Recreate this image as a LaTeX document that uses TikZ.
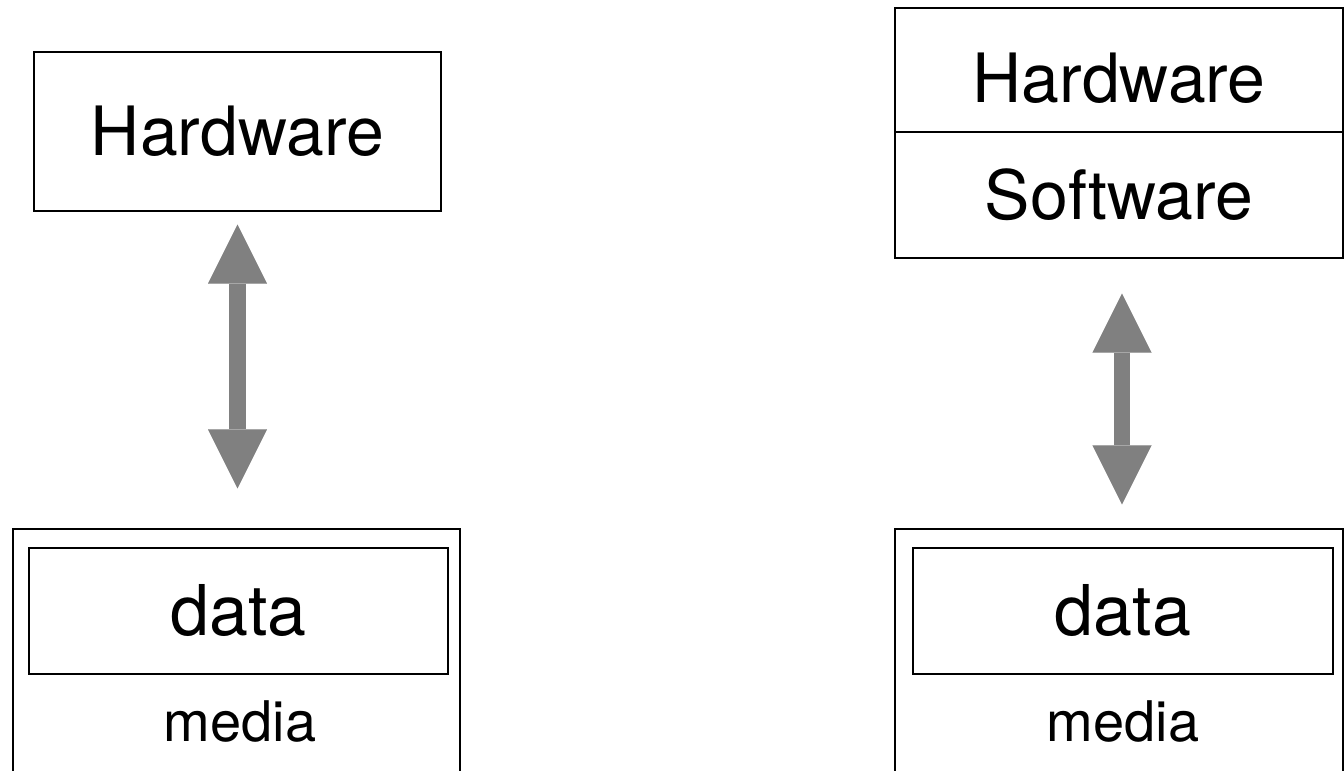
\documentclass[tikz,border=0pt]{standalone}
\usepackage{fontspec}
\setmainfont{TeX Gyre Heros}
\usetikzlibrary{arrows.meta}
\definecolor{arrowgrey}{HTML}{808080}
\tikzset{
  box/.style={draw=black, line width=1.3pt, inner sep=0pt, rectangle},
  bigtext/.style={font=\fontsize{68}{80}\selectfont},
  datatext/.style={font=\fontsize{70}{80}\selectfont},
  smalltext/.style={font=\fontsize{56}{64}\selectfont, inner sep=0pt},
  dbl/.style={draw=arrowgrey, line width=16.5pt,
    {Triangle[length=59pt,width=59pt,line width=0.01pt]}-{Triangle[length=59pt,width=59pt,line width=0.01pt]}}
}
\begin{document}
\begin{tikzpicture}[x=1pt,y=-1pt]
\useasboundingbox (0,0) rectangle (1344,771);
% left column
\node[box, bigtext, minimum width=407pt, minimum height=159pt] (hwl) at (237.5,131.5) {Hardware};
\node[box, minimum width=447pt, minimum height=271pt] (medl) at (236.5,664.5) {};
\node[box, datatext, minimum width=419pt, minimum height=126pt] (datal) at (238.5,611) {data};
\node[smalltext] (medtl) at (240,721) {media};
\draw[dbl, shorten <=13pt, shorten >=40pt] (hwl.south) -- (hwl.south |- medl.north);
% right column
\node[box, bigtext, minimum width=448pt, minimum height=124pt, text height=66pt] (hwr) at (1119,70) {Hardware};
\node[box, bigtext, minimum width=448pt, minimum height=126pt] (swr) at (1119,195) {Software};
\node[box, minimum width=448pt, minimum height=271pt] (medr) at (1119,664.5) {};
\node[box, datatext, minimum width=420pt, minimum height=126pt] (datar) at (1123,611) {data};
\node[smalltext] (medtr) at (1123,721) {media};
\draw[dbl, shorten <=35pt, shorten >=24pt] ([xshift=3pt]swr.south) -- ([xshift=3pt]swr.south |- medr.north);
\end{tikzpicture}
\end{document}
